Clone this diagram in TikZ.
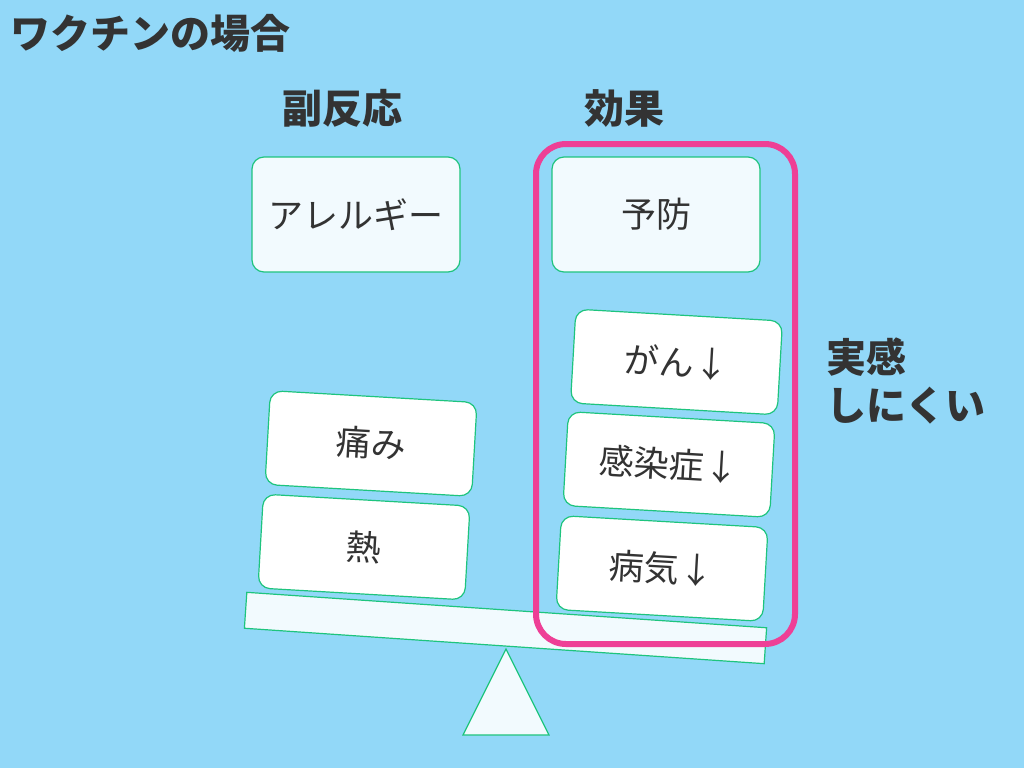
\documentclass[tikz,border=0pt]{standalone}
\usepackage{fontspec}
\setmainfont{Noto Sans CJK JP}
\definecolor{bg}{HTML}{92D8F8}
\definecolor{boxfill}{HTML}{F2FAFE}
\definecolor{boxline}{HTML}{1EC47E}
\definecolor{framepink}{HTML}{EE3F96}
\definecolor{ink}{HTML}{333333}
\begin{document}
\begin{tikzpicture}[x=1pt, y=-1pt, top/.style={draw=boxline, fill=boxfill, line width=1.2pt, rounded corners=12pt, minimum width=208pt, minimum height=115pt, inner sep=0pt, text=ink, font=\fontsize{35}{42}\selectfont}, weight/.style={draw=boxline, fill=white, line width=1.2pt, rounded corners=12pt, minimum width=207pt, minimum height=94pt, inner sep=0pt, rotate=-3.3, text=ink, font=\fontsize{35}{42}\selectfont}, head/.style={text=ink, inner sep=0pt, font=\fontsize{40}{48}\selectfont\bfseries}]
	\fill[bg] (0,0) rectangle (1024,768);
	\node[head, anchor=west] (T) at (10,33) {ワクチンの場合};
	\node[head] (H1) at (342.5,108) {副反応};
	\node[head] (H2) at (624,108) {効果};
	\node[draw=boxline, fill=boxfill, line width=1.2pt, minimum width=521pt, minimum height=36pt, inner sep=0pt, rotate=-3.9] (B) at (505.5,628) {};
	\draw[draw=boxline, fill=boxfill, line width=1.2pt] (506,649) -- (549,735) -- (463,735) -- cycle;
	\node[top] (A) at (356,214.5) {アレルギー};
	\node[top] (P) at (656,214.5) {予防};
	\node[weight] (W1) at (371,443.5) {痛み};
	\node[weight] (W2) at (364,547) {熱};
	\node[weight] (E1) at (676.5,362) {がん↓};
	\node[weight] (E2) at (669,464.5) {感染症↓};
	\node[weight] (E3) at (662,568.5) {病気↓};
	\draw[framepink, line width=6pt, rounded corners=30pt] (536,144) rectangle (795,644);
	\node[head, anchor=west, align=left] (R) at (826,381) {実感\\しにくい};
\end{tikzpicture}
\end{document}
